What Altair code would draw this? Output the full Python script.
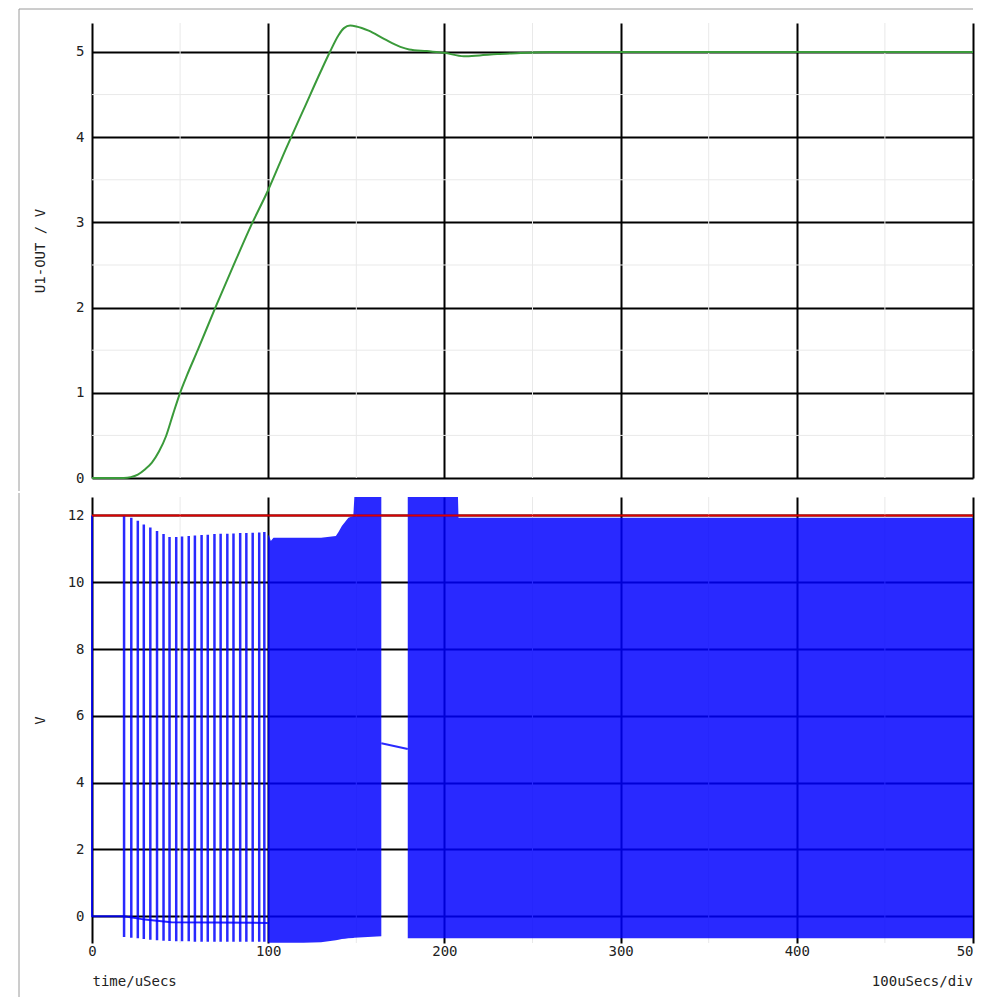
import altair as alt
import pandas as pd

FONT = "DejaVu Sans Mono"
TXT = "#222222"
FRAME = "#9a9a9a"

# ---------------- top panel: U1-OUT ----------------
out_t = [0, 10, 18, 22, 26, 30, 34, 38, 42, 46, 50, 54, 60, 70, 80, 90, 100, 110, 120,
         130, 135, 140, 143, 146.5, 150, 157, 166, 175, 180, 190, 200, 211, 220,
         230, 241, 260, 500]
out_v = [0, 0, 0, 0.01, 0.04, 0.1, 0.18, 0.31, 0.49, 0.75, 1.0, 1.21, 1.5, 2.0, 2.48,
         2.95, 3.38, 3.86, 4.32, 4.78, 5.0, 5.2, 5.28, 5.31, 5.3, 5.25, 5.15, 5.06,
         5.03, 5.01, 4.99, 4.95, 4.96, 4.975, 4.985, 5.0, 5.0]

top_major_x = [0, 100, 200, 300, 400, 500]
top_major_y = [0, 1, 2, 3, 4, 5]
minor_x = [50, 150, 250, 350, 450]
top_minor_y = [0.5, 1.5, 2.5, 3.5, 4.5]

# ---------------- bottom panel: switching node ----------------
pulse_t = [18.2, 22.3, 26.0, 29.4, 33.1, 36.9, 40.6, 44.0, 47.8, 51.1, 54.9, 58.4,
           62.2, 65.7, 69.5, 73.0, 76.8, 80.3, 84.1, 87.6, 91.2, 94.9, 97.8]
pulse_hi = [12.0, 11.93, 11.84, 11.73, 11.64, 11.53, 11.44, 11.35, 11.35, 11.37,
            11.38, 11.4, 11.41, 11.42, 11.44, 11.45, 11.45, 11.46, 11.47, 11.47,
            11.48, 11.49, 11.5]
pulse_lo = [-0.62, -0.64, -0.66, -0.68, -0.7, -0.72, -0.73, -0.74, -0.75, -0.75,
            -0.75, -0.76, -0.76, -0.76, -0.76, -0.76, -0.76, -0.76, -0.76, -0.76,
            -0.76, -0.76, -0.76]

band_seg = ["a"] * 14 + ["b"] * 4
band_t = [99.8, 100.5, 101.5, 103, 120, 130, 138.4, 139.9, 141.8, 143.6, 145.5,
          148.3, 148.9, 164.2, 179.2, 207.7, 208.0, 500]
band_lo = [-0.78, -0.79, -0.79, -0.79, -0.79, -0.78, -0.72, -0.7, -0.68, -0.67,
           -0.66, -0.65, -0.64, -0.6, -0.66, -0.66, -0.66, -0.66]
band_hi = [11.42, 11.38, 11.23, 11.33, 11.33, 11.33, 11.38, 11.5, 11.68, 11.8,
           11.93, 11.98, 12.55, 12.55, 12.55, 12.55, 11.93, 11.93]

wire_seg = ["base"] * 6 + ["gap"] * 2
wire_t = [0, 0, 18.2, 30, 45, 99.8, 164.2, 179.2]
wire_v = [12, 0, 0, -0.1, -0.18, -0.2, 5.18, 5.01]

vin_t = [0, 500]
vin_v = [12, 12]

bot_major_x = [0, 100, 200, 300, 400, 500]
bot_major_y = [0, 2, 4, 6, 8, 10, 12]

W = 881
H_TOP = 455
H_BOT = 446

# ---------- top chart ----------
xs_top = alt.X("t:Q", scale=alt.Scale(domain=[0, 500], nice=False, zero=False),
               axis=alt.Axis(values=top_major_x, labels=False, title=None))
ys_top = alt.Y("v:Q", scale=alt.Scale(domain=[0, 5.34], nice=False, zero=False),
               axis=alt.Axis(values=top_major_y, title="U1-OUT / V", titleX=-45,
                             labelPadding=8))

top_minor_v = alt.Chart(pd.DataFrame({"t": minor_x})).mark_rule(
    color="#e9e9e9", strokeWidth=1).encode(x=xs_top)
top_minor_h = alt.Chart(pd.DataFrame({"v": top_minor_y})).mark_rule(
    color="#e9e9e9", strokeWidth=1).encode(y=ys_top)
top_line = alt.Chart(pd.DataFrame({"t": out_t, "v": out_v})).mark_line(
    color="#3a9a3a", strokeWidth=2, interpolate="monotone").encode(x=xs_top, y=ys_top)

# window frame (decoration, not data)
frame_top_h = alt.Chart().mark_rule(color=FRAME, strokeWidth=1).encode(
    x=alt.value(-73), x2=alt.value(W), y=alt.value(-14))
frame_top_v = alt.Chart().mark_rule(color=FRAME, strokeWidth=1).encode(
    x=alt.value(-73), y=alt.value(-14), y2=alt.value(H_TOP + 13))

top = alt.layer(top_minor_v, top_minor_h, top_line, frame_top_h, frame_top_v
                ).properties(width=W, height=H_TOP)

# ---------- bottom chart ----------
xs_bot = alt.X("t:Q", scale=alt.Scale(domain=[0, 500], nice=False, zero=False),
               axis=alt.Axis(values=bot_major_x, title="time/uSecs", labelPadding=1,
                             titleAnchor="start", titlePadding=16,
                             labelExpr="datum.value === 500 ? '50' : datum.label",
                             labelAlign={"condition": {"test": "datum.value === 500",
                                                       "value": "right"},
                                         "value": "center"}))
ys_bot = alt.Y("v:Q", scale=alt.Scale(domain=[-0.8, 12.55], nice=False, zero=False),
               axis=alt.Axis(values=bot_major_y, title="V", titleX=-45, labelPadding=8))

bot_minor_v = alt.Chart(pd.DataFrame({"t": minor_x})).mark_rule(
    color="#e9e9e9", strokeWidth=1).encode(x=xs_bot)

band = alt.Chart(pd.DataFrame({"seg": band_seg, "t": band_t, "v": band_lo, "v2": band_hi})
                 ).mark_area(color="#0000ff", opacity=0.84).encode(
    x=xs_bot, y=ys_bot, y2="v2:Q", detail="seg:N")

pulses = alt.Chart(pd.DataFrame({"t": pulse_t, "v": pulse_lo, "v2": pulse_hi})
                   ).mark_rule(color="#0000ff", opacity=0.84, strokeWidth=2.5).encode(
    x=xs_bot, y=ys_bot, y2="v2:Q")

wire = alt.Chart(pd.DataFrame({"seg": wire_seg, "t": wire_t, "v": wire_v,
                               "i": list(range(len(wire_t)))})
                 ).mark_line(color="#0000ff", opacity=0.84, strokeWidth=2).encode(
    x=xs_bot, y=ys_bot, detail="seg:N", order="i:Q")

vin = alt.Chart(pd.DataFrame({"t": vin_t, "v": vin_v})).mark_line(
    color="#dd0000", strokeWidth=2).encode(x=xs_bot, y=ys_bot)

frame_bot_v = alt.Chart().mark_rule(color=FRAME, strokeWidth=1).encode(
    x=alt.value(-73), y=alt.value(-4), y2=alt.value(H_BOT + 54))

bottom = alt.layer(bot_minor_v, band, pulses, wire, vin, frame_bot_v).properties(
    width=W, height=H_BOT,
    title=alt.TitleParams("100uSecs/div", orient="bottom", anchor="end", frame="group",
                          offset=-23, fontSize=14, fontWeight="normal", font=FONT,
                          color=TXT))

chart = alt.vconcat(top, bottom, spacing=0).properties(
    padding={"left": 10, "top": 0, "right": 0, "bottom": 0}
).configure_view(stroke=None).configure_axis(
    grid=True, gridColor="black", gridWidth=2, domain=False, ticks=False, tickSize=0,
    labelFont=FONT, labelFontSize=14, labelColor=TXT,
    titleFont=FONT, titleFontSize=14, titleColor=TXT, titleFontWeight="normal"
)

chart.save("out.html", embed_options={"renderer": "svg", "actions": False})
